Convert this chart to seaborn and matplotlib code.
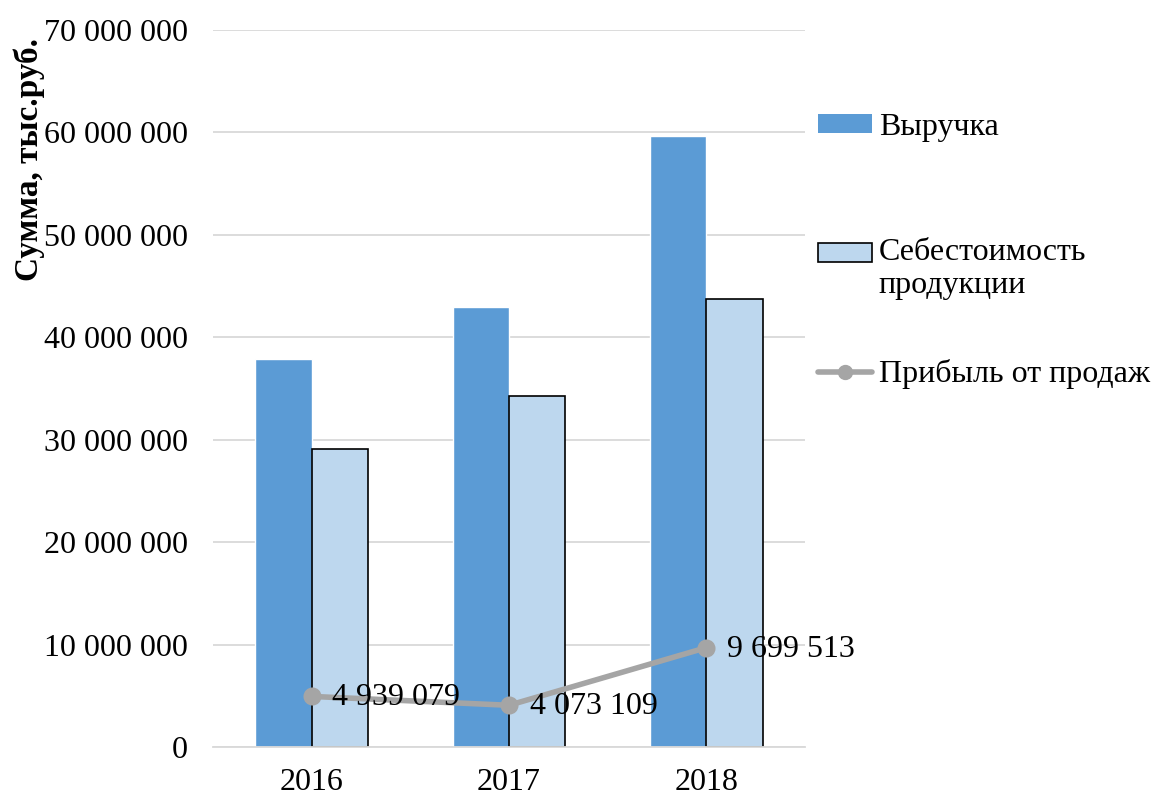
import matplotlib
matplotlib.use("Agg")
import matplotlib.pyplot as plt
import seaborn as sns
import pandas as pd
from matplotlib.patches import Patch, Rectangle
from matplotlib.lines import Line2D
from matplotlib.legend_handler import HandlerPatch
from matplotlib.ticker import FuncFormatter, MultipleLocator

years = ["2016", "2017", "2018"]
revenue = [37_880_000, 42_960_000, 59_650_000]
cost = [29_090_000, 34_270_000, 43_740_000]
profit = [4_939_079, 4_073_109, 9_699_513]
series_names = ["Выручка", "Себестоимость\nпродукции", "Прибыль от продаж"]

BLUE = "#5B9BD5"
LIGHT = "#BDD7EE"
GRAY = "#A5A5A5"

sns.set_theme(style="white")
plt.rcParams["font.family"] = ["Liberation Serif", "DejaVu Serif"]
plt.rcParams["text.color"] = "black"

bars = pd.DataFrame({
    "year": years * 2,
    "value": revenue + cost,
    "series": [series_names[0]] * 3 + [series_names[1]] * 3,
})
prof = pd.DataFrame({"year": years, "profit": profit})

fig = plt.figure(figsize=(11.52, 7.98), dpi=100)
ax = fig.add_axes([213 / 1152, 1 - 747 / 798, (805 - 213) / 1152, (747 - 30) / 798])

sns.barplot(data=bars, x="year", y="value", hue="series", order=years,
            hue_order=series_names[:2], palette=[BLUE, LIGHT], width=0.57,
            saturation=1, ax=ax, legend=False)
for p in ax.containers[1]:
    p.set_edgecolor("black")
    p.set_linewidth(1.2)

sns.pointplot(data=prof, x="year", y="profit", order=years, color=GRAY,
              markers="o", markersize=10, linewidth=4, errorbar=None, ax=ax)

label_size = 23
for i, v in enumerate(profit):
    ax.annotate(f"{v:,}".replace(",", " "), (i, v), xytext=(15, -1),
                textcoords="offset points", ha="left", va="center",
                fontsize=label_size, color="black")

ax.set_ylim(0, 70_000_000)
ax.set_xlim(-0.5, 2.5)
ax.yaxis.set_major_locator(MultipleLocator(10_000_000))
ax.yaxis.set_major_formatter(FuncFormatter(lambda v, _: f"{int(v):,}".replace(",", " ")))
ax.grid(axis="y", color="#D9D9D9", linewidth=1.3)
ax.set_axisbelow(True)
for s in ["top", "right", "left"]:
    ax.spines[s].set_visible(False)
ax.spines["bottom"].set_color("#D9D9D9")
ax.spines["bottom"].set_linewidth(1.3)
ax.tick_params(axis="both", length=0, labelsize=label_size, colors="black")
ax.tick_params(axis="y", pad=18)
ax.tick_params(axis="x", pad=15)
ax.set_xlabel("")
ax.set_ylabel("Сумма, тыс.руб.", fontsize=24, fontweight="bold", color="black")
ax.yaxis.set_label_coords(-0.283, 0.82)


def raised_rect(legend, orig_handle, xdescent, ydescent, width, height, fontsize):
    return Rectangle((-xdescent, -ydescent + 0.5 * fontsize), width, height)


legend_items = [
    (Patch(facecolor=BLUE, edgecolor="none"), series_names[0], 127, None),
    (Patch(facecolor=LIGHT, edgecolor="black", linewidth=1.2), series_names[1], 269,
     HandlerPatch(patch_func=raised_rect)),
    (Line2D([0], [0], color=GRAY, linewidth=4, marker="o", markersize=10),
     series_names[2], 374, None),
]
for handle, label, ypix, handler in legend_items:
    kw = {}
    if handler is not None:
        kw["handler_map"] = {handle: handler}
    fig.legend([handle], [label], loc="center left",
               bbox_to_anchor=(818 / 1152, 1 - ypix / 798), frameon=False,
               fontsize=label_size, handlelength=1.7, handleheight=0.55,
               handletextpad=0.2, borderpad=0, borderaxespad=0,
               labelcolor="black", **kw)

fig.savefig("out.png", dpi=100)
